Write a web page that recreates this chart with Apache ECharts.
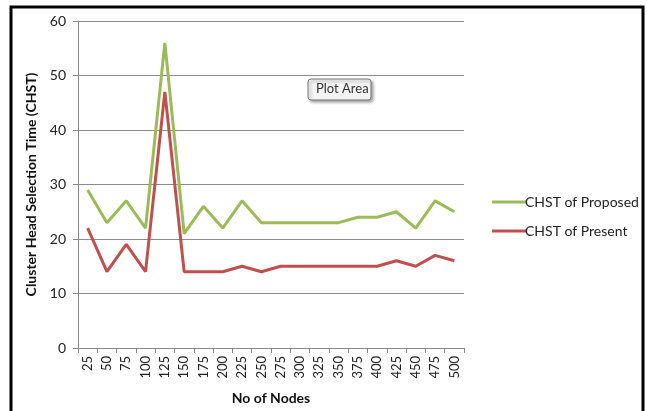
<!DOCTYPE html>
<html>
<head>
<meta charset="utf-8">
<script src="https://cdn.jsdelivr.net/npm/echarts@6/dist/echarts.min.js"></script>
<style>
  html, body { margin: 0; padding: 0; background: #fff; }
  #main { width: 647px; height: 411px; }
</style>
</head>
<body>
<div id="main"></div>
<script>
// 数据
var nodes = ['25','50','75','100','125','150','175','200','225','250','275','300','325','350','375','400','425','450','475','500'];
var proposed = [29,23,27,22,56,21,26,22,27,23,23,23,23,23,24,24,25,22,27,25];
var present  = [22,14,19,14,47,14,14,14,15,14,15,15,15,15,15,15,16,15,17,16];
var yTicks = [0,10,20,30,40,50,60];

var font = 'Lato, "Open Sans", sans-serif';
var myChart = echarts.init(document.getElementById('main'));

var option = {
    animation: false,
    textStyle: { fontFamily: font },
    grid: { left: 78, top: 21, width: 386, height: 327 },
    legend: {
        orient: 'vertical',
        left: 487, top: 190,
        itemWidth: 34, itemHeight: 3, itemGap: 15,
        icon: 'rect',
        textStyle: { fontSize: 14, color: '#222', fontFamily: font, padding: [0, 0, 0, -6] },
        data: ['CHST of Proposed', 'CHST of Present']
    },
    xAxis: {
        type: 'category',
        data: nodes,
        boundaryGap: true,
        name: 'No of Nodes',
        nameLocation: 'middle',
        nameGap: 43,
        nameTextStyle: { fontWeight: 'bold', fontSize: 14, color: '#111' },
        axisLine: { lineStyle: { color: '#888' } },
        axisTick: { show: true, alignWithLabel: false, length: 5, lineStyle: { color: '#888' } },
        axisLabel: { rotate: 90, fontSize: 13, color: '#222', margin: 8, interval: 0 }
    },
    yAxis: {
        type: 'value',
        min: yTicks[0], max: yTicks[yTicks.length - 1], interval: 10,
        name: 'Cluster Head Selection Time (CHST)',
        nameLocation: 'middle',
        nameGap: 34,
        nameTextStyle: { fontWeight: 'bold', fontSize: 14, color: '#111' },
        axisLine: { show: true, lineStyle: { color: '#888' } },
        axisTick: { show: true, length: 5, lineStyle: { color: '#888' } },
        axisLabel: { fontSize: 14, color: '#222', margin: 12 },
        splitLine: { lineStyle: { color: '#8c8c8c', width: 1 } }
    },
    series: [
        {
            name: 'CHST of Proposed',
            type: 'line',
            data: proposed,
            symbol: 'none',
            lineStyle: { width: 3, color: '#9BBB59' },
            itemStyle: { color: '#9BBB59' }
        },
        {
            name: 'CHST of Present',
            type: 'line',
            data: present,
            symbol: 'none',
            lineStyle: { width: 3, color: '#C0504D' },
            itemStyle: { color: '#C0504D' }
        }
    ],
    graphic: [
        {
            type: 'rect',
            shape: { x: 11, y: 7, width: 632, height: 420 },
            style: { fill: 'none', stroke: '#000', lineWidth: 3 },
            silent: true
        },
        {
            type: 'rect',
            shape: { x: 308, y: 79, width: 63, height: 21, r: 3 },
            style: { fill: '#f4f4f4', stroke: '#777', lineWidth: 1, shadowBlur: 3, shadowColor: 'rgba(0,0,0,0.35)', shadowOffsetX: 2, shadowOffsetY: 2 },
            silent: true
        },
        {
            type: 'text',
            left: 316, top: 82,
            style: { text: 'Plot Area', fontSize: 13, fill: '#333', fontFamily: font },
            silent: true
        }
    ]
};
option && myChart.setOption(option);
</script>
</body>
</html>
